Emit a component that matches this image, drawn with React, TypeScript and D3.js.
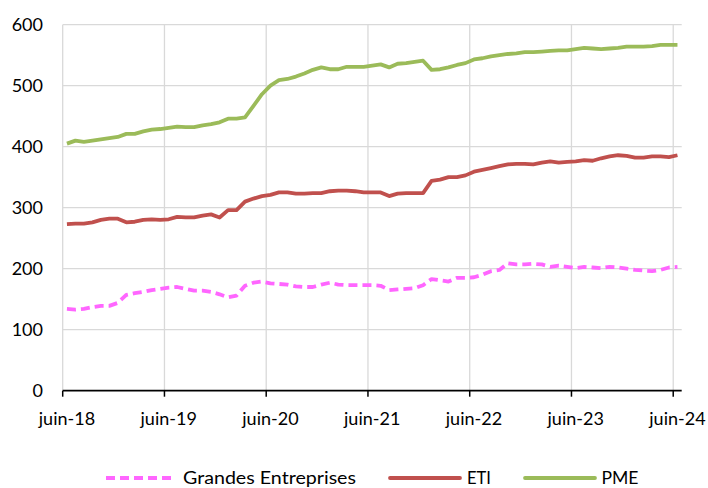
import React from "react";
import * as d3 from "d3";

const monthNames = ["juin", "juil", "août", "sept", "oct", "nov", "déc", "janv", "févr", "mars", "avr", "mai"];
const startYear = 18;
const nMonths = 73;
const categories: string[] = Array.from({ length: nMonths }, (_, i) => {
  const m = i % 12;
  const yr = startYear + Math.floor((i + 5) / 12);
  return `${monthNames[m]}-${yr}`;
});

const tickIndices = [0, 12, 24, 36, 48, 60, 72];
const tickLabels = ["juin-18", "juin-19", "juin-20", "juin-21", "juin-22", "juin-23", "juin-24"];
const yTicks = [0, 100, 200, 300, 400, 500, 600];

const grandesEntreprises = [
  134, 133, 134, 137, 139, 139, 144, 157, 160, 162, 165, 167,
  169, 170, 167, 164, 164, 162, 158, 153, 156, 172, 177, 179,
  176, 175, 174, 171, 170, 170, 174, 177, 174, 173, 173, 173,
  173, 172, 165, 166, 167, 168, 173, 183, 181, 179, 185, 185,
  186, 190, 196, 198, 209, 207, 207, 208, 207, 203, 205, 203,
  201, 203, 202, 201, 203, 202, 200, 198, 197, 196, 198, 202,
  203,
];

const eti = [
  273, 274, 274, 276, 280, 282, 282, 276, 277, 280, 281, 280,
  281, 285, 284, 284, 287, 289, 284, 296, 296, 310, 315, 319,
  321, 325, 325, 323, 323, 324, 324, 327, 328, 328, 327, 325,
  325, 325, 319, 323, 324, 324, 324, 344, 346, 350, 350, 353,
  359, 362, 365, 368, 371, 372, 372, 371, 374, 376, 374, 375,
  376, 378, 377, 381, 384, 386, 385, 382, 382, 384, 384, 383,
  386,
];

const pme = [
  405, 410, 408, 410, 412, 414, 416, 421, 421, 425, 428, 429,
  431, 433, 432, 432, 435, 437, 440, 446, 446, 448, 467, 486,
  500, 509, 511, 515, 520, 526, 530, 527, 527, 531, 531, 531,
  533, 535, 530, 536, 537, 539, 541, 526, 527, 530, 534, 537,
  543, 545, 548, 550, 552, 553, 555, 555, 556, 557, 558, 558,
  560, 562, 561, 560, 561, 562, 564, 564, 564, 565, 567, 567,
  567,
];

const seriesNames = ["Grandes Entreprises", "ETI", "PME"];

const W = 708;
const H = 488;
const left = 62.7;
const right = 681.7;
const top = 24.7;
const bottom = 390.7;
const font = "Lato, Carlito, 'Liberation Sans', sans-serif";

export default function App() {
  const x = d3.scaleBand<number>().domain(d3.range(categories.length)).range([left, right]).padding(0);
  const cx = (i: number) => (x(i) as number) + x.bandwidth() / 2;
  const y = d3.scaleLinear().domain([0, 600]).range([bottom, top]);

  const line = d3
    .line<number>()
    .x((_, i) => cx(i))
    .y((d) => y(d));

  const series = [
    { name: seriesNames[0], data: grandesEntreprises, color: "#FF66FF", dash: "9 5" },
    { name: seriesNames[1], data: eti, color: "#C0504D", dash: undefined },
    { name: seriesNames[2], data: pme, color: "#9BBB59", dash: undefined },
  ];

  const legend = [
    { x1: 106, x2: 176, tx: 183, len: 173 },
    { x1: 390, x2: 460, tx: 467, len: 24 },
    { x1: 525, x2: 595, tx: 601.5, len: 37 },
  ];

  return (
    <svg
      width={W}
      height={H}
      style={{ position: "absolute", left: 0, top: 0, background: "#fff", display: "block" }}
      fontFamily={font}
    >
      <rect x={0} y={0} width={W} height={H} fill="#fff" />
      {yTicks.filter((t) => t > 0).map((t) => (
        <line key={"h" + t} x1={left} x2={right} y1={y(t)} y2={y(t)} stroke="#d9d9d9" strokeWidth={1.3} />
      ))}
      {tickIndices.map((i) => (
        <line key={"v" + i} x1={x(i) as number} x2={x(i) as number} y1={top} y2={bottom} stroke="#d9d9d9" strokeWidth={1.3} />
      ))}
      {yTicks.map((t) => (
        <text key={"yl" + t} x={43} y={y(t)} dy="0.35em" textAnchor="end" fontSize={18} fill="#000">
          {t}
        </text>
      ))}
      {series.map((s) => (
        <path
          key={s.name}
          d={line(s.data) as string}
          fill="none"
          stroke={s.color}
          strokeWidth={3.8}
          strokeDasharray={s.dash}
          strokeLinejoin="round"
        />
      ))}
      <line x1={left} x2={right} y1={bottom} y2={bottom} stroke="#000" strokeWidth={1.8} />
      {tickIndices.map((i) => (
        <line key={"t" + i} x1={x(i) as number} x2={x(i) as number} y1={bottom} y2={bottom + 6} stroke="#000" strokeWidth={1.5} />
      ))}
      {tickIndices.map((i, k) => (
        <text key={"xl" + i} x={cx(i)} y={425} textAnchor="middle" fontSize={18} fill="#000">
          {tickLabels[k]}
        </text>
      ))}
      {series.map((s, k) => (
        <g key={"lg" + k}>
          <line
            x1={legend[k].x1}
            x2={legend[k].x2}
            y1={478}
            y2={478}
            stroke={s.color}
            strokeWidth={3.8}
            strokeDasharray={s.dash}
            strokeLinecap={s.dash ? "butt" : "round"}
          />
          <text
            x={legend[k].tx}
            y={483.5}
            fontSize={18}
            fill="#000"
            textLength={legend[k].len}
            lengthAdjust="spacingAndGlyphs"
          >
            {s.name}
          </text>
        </g>
      ))}
    </svg>
  );
}
